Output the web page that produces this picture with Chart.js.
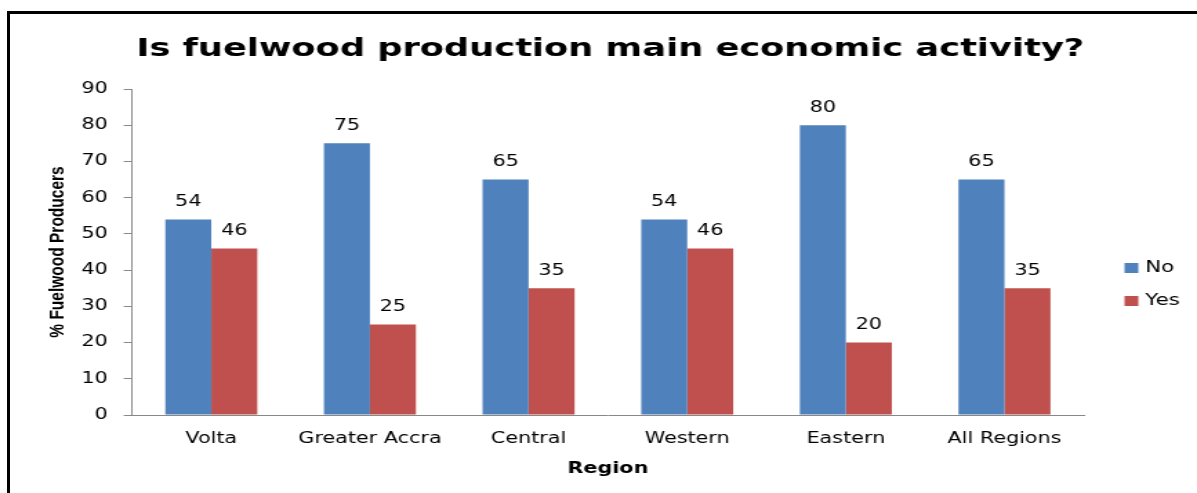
<!DOCTYPE html>
<html>
<head>
<meta charset="utf-8">
<script src="https://cdn.jsdelivr.net/npm/chart.js@4.4.0/dist/chart.umd.min.js"></script>
<style>
  html, body { margin: 0; padding: 0; background: #fff; }
  #wrap { position: relative; width: 1197px; height: 493px; overflow: hidden; }
  #frame { position: absolute; left: 7px; top: 11px; width: 1300px; height: 600px;
           border-left: 3px solid #000; border-top: 3px solid #000; box-sizing: border-box; }
  canvas { position: absolute; left: 0; top: 0; }
</style>
</head>
<body>
<div id="wrap">
  <!-- drawn narrow, shown wide: the original chart was stretched sideways -->
  <canvas id="myChart" width="867" height="493" style="width:1197px;height:493px"></canvas>
  <div id="frame"></div>
</div>
<script>
// Share of fuelwood producers per region
const regions = ['Volta', 'Greater Accra', 'Central', 'Western', 'Eastern', 'All Regions'];
const noValues = [54, 75, 65, 54, 80, 65];
const yesValues = [46, 25, 35, 46, 20, 35];
const yTicks = [0, 10, 20, 30, 40, 50, 60, 70, 80, 90];
const chartTitle = 'Is fuelwood production main economic activity?';

const FONT = "'DejaVu Sans', Verdana, sans-serif";

// Title, centred over the frame rather than over the plot
const topTitle = {
  id: 'topTitle',
  afterDraw(chart) {
    const c = chart.ctx;
    c.save();
    c.font = 'bold 25.5px ' + FONT;
    c.fillStyle = '#000';
    c.textAlign = 'center';
    c.textBaseline = 'middle';
    c.fillText(chartTitle, 442, 49);
    c.restore();
  }
};

// Prints the value above each bar
const valueLabels = {
  id: 'valueLabels',
  afterDatasetsDraw(chart) {
    const c = chart.ctx;
    c.save();
    c.font = '15px ' + FONT;
    c.fillStyle = '#000';
    c.textAlign = 'center';
    c.textBaseline = 'bottom';
    chart.data.datasets.forEach((ds, i) => {
      chart.getDatasetMeta(i).data.forEach((bar, j) => {
        c.fillText(ds.data[j], bar.x, bar.y - 10);
      });
    });
    c.restore();
  }
};

// Legend drawn to the right of the plot
const sideLegend = {
  id: 'sideLegend',
  afterDraw(chart) {
    const c = chart.ctx;
    c.save();
    c.font = '15.5px ' + FONT;
    c.textBaseline = 'middle';
    chart.data.datasets.forEach((ds, i) => {
      const y = 268 + i * 33;
      c.fillStyle = ds.backgroundColor;
      c.fillRect(814.5, y - 5, 10, 10);
      c.fillStyle = '#000';
      c.fillText(ds.label, 829.5, y);
    });
    c.restore();
  }
};

new Chart(document.getElementById('myChart'), {
  type: 'bar',
  data: {
    labels: regions,
    datasets: [
      { label: 'No', data: noValues, backgroundColor: '#4F81BD' },
      { label: 'Yes', data: yesValues, backgroundColor: '#C0504D' }
    ]
  },
  plugins: [topTitle, valueLabels, sideLegend],
  options: {
    responsive: false,
    devicePixelRatio: 1,
    animation: false,
    layout: { padding: { left: 34, right: 82, top: 89, bottom: 15 } },
    datasets: { bar: { categoryPercentage: 0.58, barPercentage: 1.0 } },
    plugins: {
      legend: { display: false },
      tooltip: { enabled: false },
      title: { display: false }
    },
    scales: {
      y: {
        min: 0,
        max: 90,
        afterBuildTicks(axis) { axis.ticks = yTicks.map(v => ({ value: v })); },
        grid: { drawOnChartArea: false, color: '#888', tickLength: 6 },
        border: { color: '#888', width: 1 },
        ticks: { color: '#000', font: { family: FONT, size: 15 }, padding: 11.5 },
        title: {
          display: true,
          text: '% Fuelwood Producers',
          color: '#000',
          font: { family: "'Liberation Sans Narrow', 'Arial Narrow', sans-serif", size: 15.5, weight: 'bold', lineHeight: 1 },
          padding: { top: 0, bottom: -2 }
        }
      },
      x: {
        grid: { display: false },
        border: { color: '#888', width: 1 },
        ticks: { color: '#000', font: { family: FONT, size: 15 }, padding: 7 },
        title: {
          display: true,
          text: 'Region',
          color: '#000',
          font: { family: FONT, size: 15, weight: 'bold' },
          padding: { top: 5, bottom: 0 }
        }
      }
    }
  }
});
</script>
</body>
</html>
